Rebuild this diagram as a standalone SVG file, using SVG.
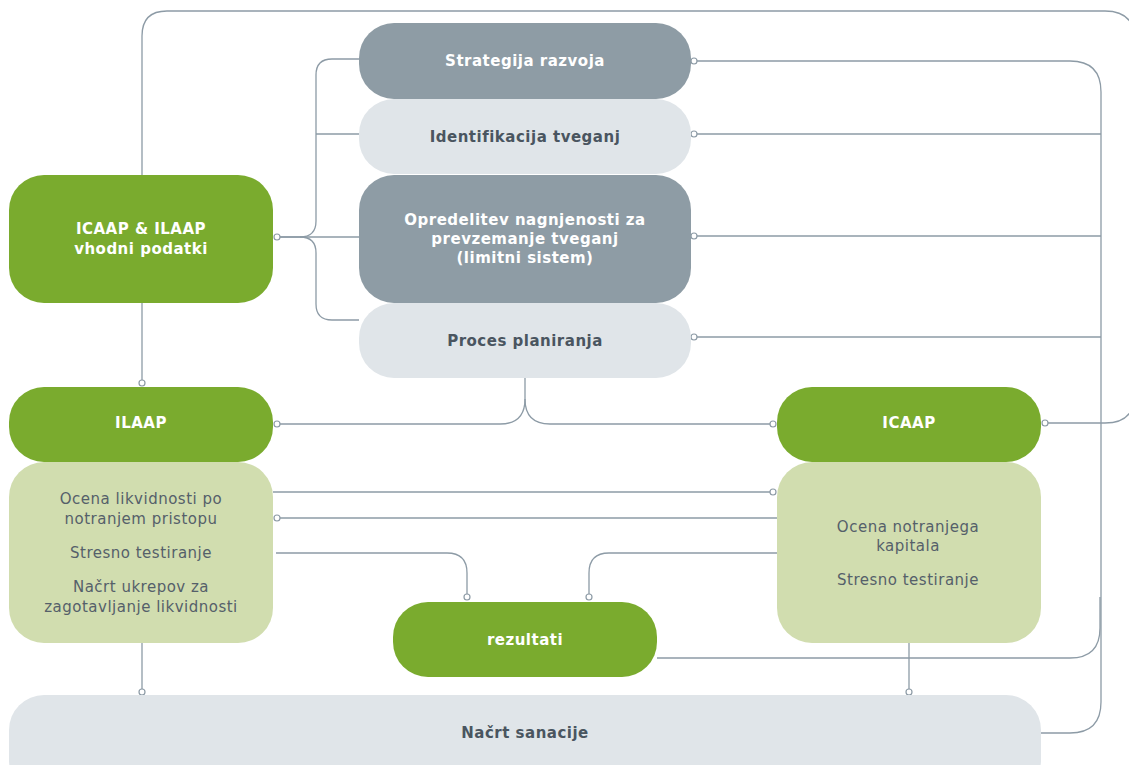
<svg xmlns="http://www.w3.org/2000/svg" width="1129" height="765" viewBox="0 0 1129 765">
<style>
.g{fill:#7aab2e}
.dg{fill:#8e9ca5}
.lg{fill:#e0e5e9}
.lgr{fill:#d1ddaf}
.tb{font-family:"DejaVu Sans",Verdana,sans-serif;font-size:15px;font-weight:bold;text-anchor:middle;letter-spacing:0.5px}
.tr{font-family:"DejaVu Sans",Verdana,sans-serif;font-size:15px;text-anchor:middle;fill:#55606a;letter-spacing:0.5px}
.w{fill:#ffffff}
.d{fill:#4a5560}
.c{fill:none;stroke:#8d9ba6;stroke-width:1.3}
.dot{fill:#ffffff;stroke:#8d9ba6;stroke-width:1.2}
</style>
<rect width="1129" height="765" fill="#ffffff"/>
<g id="connectors">
<path class="c" d="M142,175 V36 Q142,11 167,11 H1105 Q1135,11 1135,41 V393 Q1135,423 1105,423 H1045"/>
<path class="c" d="M280,237 H359"/>
<path class="c" d="M280,237 H300 Q316,237 316,221 V75 Q316,59 332,59 H359"/>
<path class="c" d="M316,134 H359"/>
<path class="c" d="M300,237 Q316,237 316,253 V304 Q316,320 332,320 H359"/>
<path class="c" d="M697,61 H1070 Q1101,61 1101,92 V702 Q1101,733 1070,733 H1041"/>
<path class="c" d="M697,134 H1101"/>
<path class="c" d="M697,236 H1101"/>
<path class="c" d="M697,337 H1101"/>
<path class="c" d="M657,658 H1070 Q1100,658 1100,628 V597"/>
<path class="c" d="M525,378 V399 Q525,424 500,424 H280"/>
<path class="c" d="M525,399 Q525,424 550,424 H770"/>
<path class="c" d="M142,302 V380"/>
<path class="c" d="M273,492 H770"/>
<path class="c" d="M280,518 H777"/>
<path class="c" d="M276,553 H447 Q467,553 467,573 V594"/>
<path class="c" d="M781,553 H609 Q589,553 589,573 V594"/>
<path class="c" d="M142,643 V689"/>
<path class="c" d="M909,643 V689"/>
<circle class="dot" cx="277" cy="237" r="3"/>
<circle class="dot" cx="694" cy="61" r="3"/>
<circle class="dot" cx="694" cy="134" r="3"/>
<circle class="dot" cx="694" cy="236" r="3"/>
<circle class="dot" cx="694" cy="337" r="3"/>
<circle class="dot" cx="1045" cy="423" r="3"/>
<circle class="dot" cx="142" cy="383" r="3"/>
<circle class="dot" cx="277" cy="424" r="3"/>
<circle class="dot" cx="773" cy="424" r="3"/>
<circle class="dot" cx="773" cy="492" r="3"/>
<circle class="dot" cx="277" cy="518" r="3"/>
<circle class="dot" cx="467" cy="597" r="3"/>
<circle class="dot" cx="589" cy="597" r="3"/>
<circle class="dot" cx="142" cy="692" r="3"/>
<circle class="dot" cx="909" cy="692" r="3"/>
</g>
<g id="vhodni">
<rect class="g" x="9" y="175" width="264" height="128" rx="35"/>
<text class="tb w" x="141" y="234">ICAAP &amp; ILAAP</text>
<text class="tb w" x="141" y="254">vhodni podatki</text>
</g>
<g id="strategija">
<rect class="dg" x="359" y="23" width="332" height="76" rx="35"/>
<text class="tb w" x="525" y="66">Strategija razvoja</text>
</g>
<g id="identifikacija">
<rect class="lg" x="359" y="99" width="332" height="75" rx="35"/>
<text class="tb d" x="525" y="142">Identifikacija tveganj</text>
</g>
<g id="opredelitev">
<rect class="dg" x="359" y="175" width="332" height="128" rx="35"/>
<text class="tb w" x="525" y="225">Opredelitev nagnjenosti za</text>
<text class="tb w" x="525" y="244">prevzemanje tveganj</text>
<text class="tb w" x="525" y="263">(limitni sistem)</text>
</g>
<g id="proces">
<rect class="lg" x="359" y="303" width="332" height="75" rx="35"/>
<text class="tb d" x="525" y="346">Proces planiranja</text>
</g>
<g id="ilaap">
<rect class="g" x="9" y="387" width="264" height="75" rx="35"/>
<text class="tb w" x="141" y="428">ILAAP</text>
</g>
<g id="ilaap-vsebina">
<rect class="lgr" x="9" y="462" width="264" height="181" rx="35"/>
<text class="tr" x="141" y="504">Ocena likvidnosti po</text>
<text class="tr" x="141" y="524">notranjem pristopu</text>
<text class="tr" x="141" y="558">Stresno testiranje</text>
<text class="tr" x="141" y="592">Načrt ukrepov za</text>
<text class="tr" x="141" y="612">zagotavljanje likvidnosti</text>
</g>
<g id="icaap">
<rect class="g" x="777" y="387" width="264" height="75" rx="35"/>
<text class="tb w" x="909" y="428">ICAAP</text>
</g>
<g id="icaap-vsebina">
<rect class="lgr" x="777" y="462" width="264" height="181" rx="35"/>
<text class="tr" x="908" y="532">Ocena notranjega</text>
<text class="tr" x="908" y="551">kapitala</text>
<text class="tr" x="908" y="585">Stresno testiranje</text>
</g>
<g id="rezultati">
<rect class="g" x="393" y="602" width="264" height="75" rx="35"/>
<text class="tb w" x="525" y="645">rezultati</text>
</g>
<g id="sanacija">
<rect class="lg" x="9" y="695" width="1032" height="100" rx="35"/>
<text class="tb d" x="525" y="738">Načrt sanacije</text>
</g>
</svg>
